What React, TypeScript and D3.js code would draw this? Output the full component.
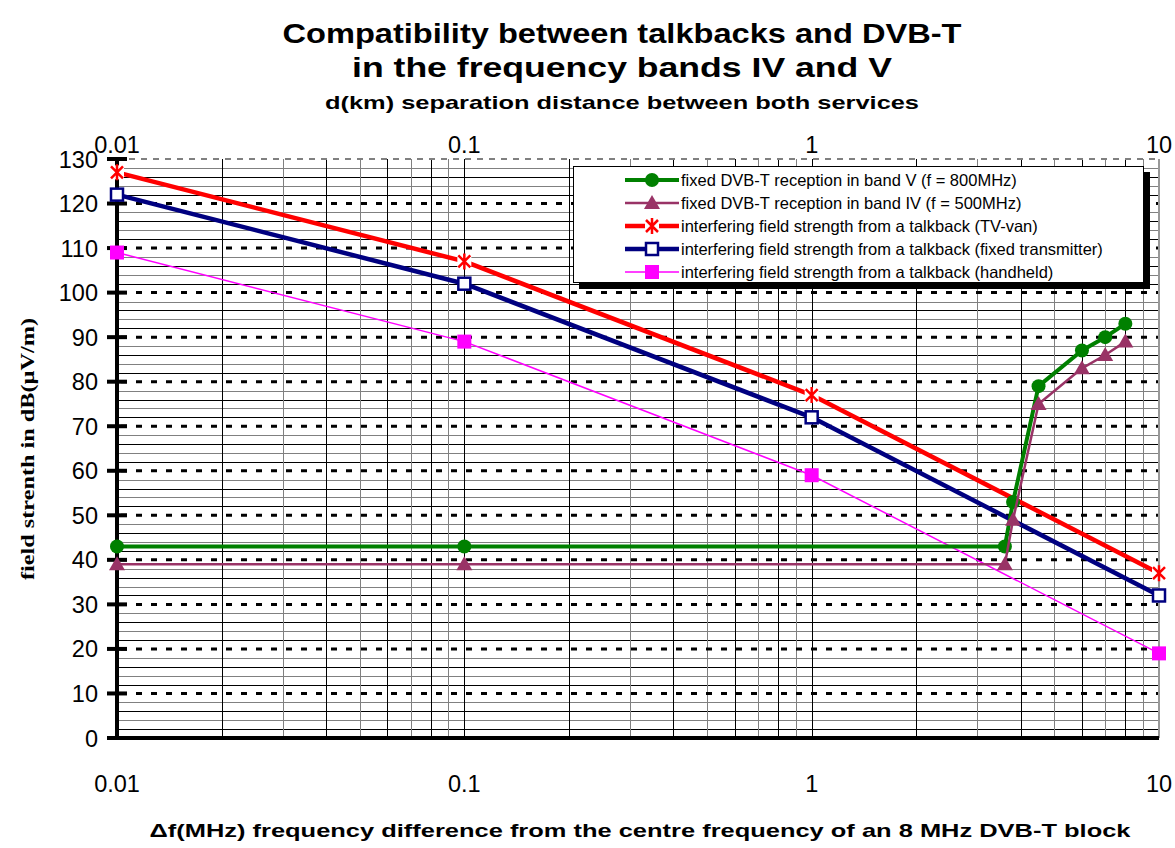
import React, { useEffect, useRef } from 'react';
import * as d3 from 'd3';

// frequency difference (MHz) for the fixed DVB-T reception curves
const dvbFreq = [0.01, 0.1, 3.6, 3.8, 4.5, 6, 7, 8];
const bandV = [43, 43, 43, 53, 79, 87, 90, 93];
const bandIV = [39, 39, 39, 49, 75, 83, 86, 89];

// separation distance (km) for the talkback curves
const talkDist = [0.01, 0.1, 1, 10];
const tvVan = [127, 107, 77, 37];
const fixedTx = [122, 102, 72, 32];
const handheld = [109, 89, 59, 19];

const decadeTicks = [0.01, 0.1, 1, 10];
const decadeLabels = ['0.01', '0.1', '1', '10'];
const yTicks = [0, 10, 20, 30, 40, 50, 60, 70, 80, 90, 100, 110, 120, 130];

const legendLabels = [
    'fixed DVB-T reception in band V (f = 800MHz)',
    'fixed DVB-T reception in band IV (f = 500MHz)',
    'interfering field strength from a talkback (TV-van)',
    'interfering field strength from a talkback (fixed transmitter)',
    'interfering field strength from a talkback (handheld)',
];

const SANS = '"Liberation Sans", Arial, sans-serif';
const SERIF = '"Liberation Serif", "Times New Roman", serif';

function App() {
    const chartRef = useRef<SVGSVGElement>(null);

    useEffect(() => {
        drawChart();
    }, []);

    const drawChart = () => {
        const svg = d3.select(chartRef.current);
        svg.selectAll('*').remove();

        const left = 117, right = 1159, top = 159, bottom = 738;

        const x = d3.scaleLog().domain([0.01, 10]).range([left, right]);
        const y = d3.scaleLinear().domain([0, 130]).range([bottom, top]);

        svg.append('rect').attr('width', 1175).attr('height', 848).attr('fill', '#fff');

        // minor horizontal grid every 2
        const minorY = d3.range(2, 130, 2).filter(v => v % 10 !== 0);
        svg.append('g').selectAll('line')
            .data(minorY)
            .enter().append('line')
            .attr('x1', left).attr('x2', right)
            .attr('y1', d => Math.round(y(d)) + 0.5).attr('y2', d => Math.round(y(d)) + 0.5)
            .attr('stroke', (d, i) => (i % 2 ? '#808080' : '#000'))
            .attr('stroke-width', 1);

        // vertical log grid
        const minorX: { v: number; k: number }[] = [];
        [0.01, 0.1, 1].forEach(dec => {
            for (let k = 1; k <= 9; k++) {
                if (dec === 0.01 && k === 1) continue;
                minorX.push({ v: dec * k, k });
            }
        });
        svg.append('g').selectAll('line')
            .data(minorX)
            .enter().append('line')
            .attr('x1', d => Math.round(x(d.v)) + 0.5).attr('x2', d => Math.round(x(d.v)) + 0.5)
            .attr('y1', top).attr('y2', bottom)
            .attr('stroke', d => (d.k % 2 === 1 && d.k !== 1 ? '#808080' : '#000'))
            .attr('stroke-width', 1);

        // major horizontal dashed lines
        svg.append('g').selectAll('line')
            .data(yTicks.filter(v => v > 0 && v < 130))
            .enter().append('line')
            .attr('x1', left + 4).attr('x2', right)
            .attr('y1', d => y(d)).attr('y2', d => y(d))
            .attr('stroke', '#000')
            .attr('stroke-width', 3)
            .attr('stroke-dasharray', '6,9');

        // top and right border
        svg.append('line')
            .attr('x1', left).attr('x2', right).attr('y1', top).attr('y2', top)
            .attr('stroke', '#808080').attr('stroke-width', 2).attr('stroke-dasharray', '6,6');
        svg.append('line')
            .attr('x1', right).attr('x2', right).attr('y1', top).attr('y2', bottom)
            .attr('stroke', '#999').attr('stroke-width', 2);

        // axes
        svg.append('line')
            .attr('x1', left).attr('x2', left).attr('y1', top - 2).attr('y2', bottom + 2)
            .attr('stroke', '#000').attr('stroke-width', 4);
        svg.append('line')
            .attr('x1', left - 2).attr('x2', right).attr('y1', bottom).attr('y2', bottom)
            .attr('stroke', '#000').attr('stroke-width', 4);
        svg.append('g').selectAll('line')
            .data(yTicks)
            .enter().append('line')
            .attr('x1', left - 10).attr('x2', left + 10)
            .attr('y1', d => y(d)).attr('y2', d => y(d))
            .attr('stroke', '#000').attr('stroke-width', 4);

        // y tick labels
        svg.append('g').selectAll('text')
            .data(yTicks)
            .enter().append('text')
            .attr('x', 98).attr('y', d => y(d) + 8.5)
            .attr('text-anchor', 'end')
            .attr('font-family', SANS).attr('font-size', 23.5)
            .text(d => d);

        // x tick labels bottom and top
        svg.append('g').selectAll('text')
            .data(decadeTicks)
            .enter().append('text')
            .attr('x', d => x(d)).attr('y', 792)
            .attr('text-anchor', 'middle')
            .attr('font-family', SANS).attr('font-size', 23.5)
            .text((d, i) => decadeLabels[i]);
        svg.append('g').selectAll('text')
            .data(decadeTicks)
            .enter().append('text')
            .attr('x', d => x(d)).attr('y', 153)
            .attr('text-anchor', 'middle')
            .attr('font-family', SANS).attr('font-size', 23.5)
            .text((d, i) => decadeLabels[i]);

        // series
        const line = d3.line<[number, number]>().x(d => x(d[0])).y(d => y(d[1]));
        const zip = (xs: number[], ys: number[]) => xs.map((v, i) => [v, ys[i]] as [number, number]);

        const series = [
            { key: 'handheld', pts: zip(talkDist, handheld), color: '#FF00FF', width: 1.5, marker: 'fsquare' },
            { key: 'fixed', pts: zip(talkDist, fixedTx), color: '#000080', width: 4.5, marker: 'osquare' },
            { key: 'van', pts: zip(talkDist, tvVan), color: '#FF0000', width: 4.5, marker: 'star' },
            { key: 'bandV', pts: zip(dvbFreq, bandV), color: '#008000', width: 4, marker: 'circle' },
            { key: 'bandIV', pts: zip(dvbFreq, bandIV), color: '#993366', width: 2.5, marker: 'triangle' },
        ];

        const drawMarker = (g: any, kind: string, color: string, cx: number, cy: number) => {
            if (kind === 'circle') {
                g.append('circle').attr('cx', cx).attr('cy', cy).attr('r', 7).attr('fill', color);
            } else if (kind === 'triangle') {
                g.append('path')
                    .attr('d', `M${cx},${cy - 8}L${cx + 8},${cy + 6}L${cx - 8},${cy + 6}Z`)
                    .attr('fill', color);
            } else if (kind === 'fsquare') {
                g.append('rect').attr('x', cx - 7).attr('y', cy - 7).attr('width', 14).attr('height', 14).attr('fill', color);
            } else if (kind === 'osquare') {
                g.append('rect').attr('x', cx - 6).attr('y', cy - 6).attr('width', 12).attr('height', 12)
                    .attr('fill', '#fff').attr('stroke', color).attr('stroke-width', 2.5);
            } else if (kind === 'star') {
                g.append('rect').attr('x', cx - 7).attr('y', cy - 7).attr('width', 14).attr('height', 14).attr('fill', '#fff');
                g.append('path')
                    .attr('d', `M${cx - 6},${cy - 6}L${cx + 6},${cy + 6}M${cx + 6},${cy - 6}L${cx - 6},${cy + 6}M${cx},${cy - 8}L${cx},${cy + 8}`)
                    .attr('stroke', color).attr('stroke-width', 2.5).attr('fill', 'none');
            }
        };

        series.forEach(s => {
            const g = svg.append('g');
            g.append('path')
                .attr('d', line(s.pts))
                .attr('fill', 'none')
                .attr('stroke', s.color)
                .attr('stroke-width', s.width)
                .attr('stroke-linejoin', 'round');
            s.pts.forEach(p => drawMarker(g, s.marker, s.color, x(p[0]), y(p[1])));
        });

        // legend
        const lg = svg.append('g');
        lg.append('rect').attr('x', 579).attr('y', 172).attr('width', 571).attr('height', 117).attr('fill', '#000');
        lg.append('rect').attr('x', 573.5).attr('y', 166.5).attr('width', 570).attr('height', 116)
            .attr('fill', '#fff').attr('stroke', '#000').attr('stroke-width', 1);
        const legendSeries = [series[3], series[4], series[2], series[1], series[0]];
        legendSeries.forEach((s, i) => {
            const ly = 180 + i * 23;
            lg.append('line').attr('x1', 625).attr('x2', 679).attr('y1', ly).attr('y2', ly)
                .attr('stroke', s.color).attr('stroke-width', s.width);
            drawMarker(lg, s.marker, s.color, 652, ly);
            lg.append('text').attr('x', 681).attr('y', ly + 5.5)
                .attr('font-family', SANS).attr('font-size', 16.5)
                .text(legendLabels[i]);
        });

        // titles
        const titles = [
            { t: 'Compatibility between talkbacks and DVB-T', y: 43, size: 28, w: 679 },
            { t: 'in the frequency bands IV and V', y: 77, size: 28, w: 540 },
            { t: 'd(km) separation distance between both services', y: 109, size: 19, w: 594 },
        ];
        titles.forEach(tt => {
            svg.append('text')
                .attr('x', 622).attr('y', tt.y)
                .attr('text-anchor', 'middle')
                .attr('font-family', SANS).attr('font-weight', 'bold').attr('font-size', tt.size)
                .attr('textLength', tt.w).attr('lengthAdjust', 'spacingAndGlyphs')
                .text(tt.t);
        });

        svg.append('text')
            .attr('x', 640).attr('y', 837)
            .attr('text-anchor', 'middle')
            .attr('font-family', SANS).attr('font-weight', 'bold').attr('font-size', 19)
            .attr('textLength', 981).attr('lengthAdjust', 'spacingAndGlyphs')
            .text('\u0394f(MHz) frequency difference from the centre frequency of an 8 MHz DVB-T block');

        svg.append('text')
            .attr('transform', 'translate(34,449) rotate(-90)')
            .attr('text-anchor', 'middle')
            .attr('font-family', SERIF).attr('font-weight', 'bold').attr('font-size', 19)
            .attr('textLength', 262).attr('lengthAdjust', 'spacingAndGlyphs')
            .text('field strenth in dB(\u00B5V/m)');
    };

    return (
        <svg
            ref={chartRef}
            width={1175}
            height={848}
            style={{ position: 'absolute', left: 0, top: 0, display: 'block' }}
        ></svg>
    );
}

export default App;
